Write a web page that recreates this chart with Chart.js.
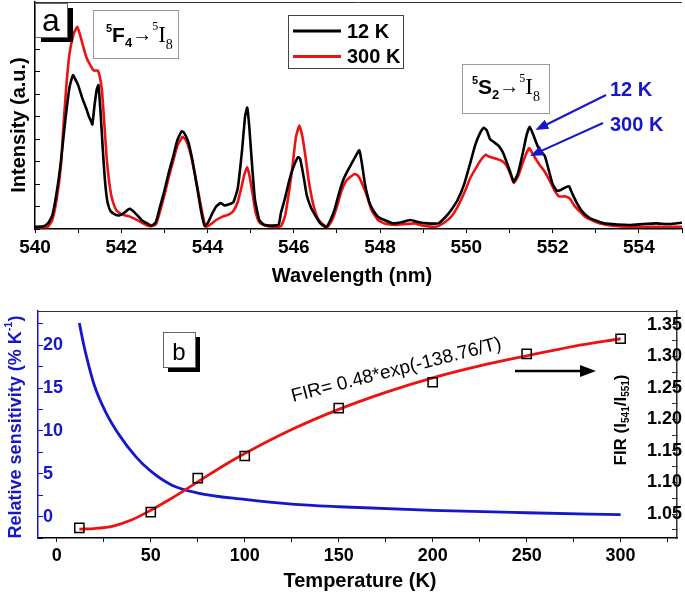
<!DOCTYPE html>
<html>
<head>
<meta charset="utf-8">
<script src="https://cdn.jsdelivr.net/npm/chart.js@4.4.0/dist/chart.umd.min.js"></script>
<style>
  body { margin: 0; background: #fff; }
  #wrap { position: relative; width: 685px; height: 594px; }
  canvas { position: absolute; left: 0; }
  #specChart { top: 0; }
  #tempChart { top: 290px; }
</style>
</head>
<body>
<div id="wrap">
  <canvas id="specChart" width="685" height="290"></canvas>
  <canvas id="tempChart" width="685" height="304"></canvas>
</div>
<script>
const FONT = "'Liberation Sans', Arial, sans-serif";
const SERIF = "'Liberation Serif', 'Times New Roman', serif";
const BLUE = '#1616cc';
const RED = '#ee1111';

// --- panel a: emission spectra ---
const wl12 = [540.0, 540.2, 540.3, 540.4, 540.5, 540.6, 540.7, 540.8, 540.88, 540.95, 541.0, 541.1, 541.2, 541.25, 541.3, 541.33,
  541.38, 541.43, 541.47, 541.52, 541.57, 541.62, 541.68, 541.75, 541.85, 541.95, 542.05, 542.15, 542.2, 542.3, 542.4, 542.5,
  542.6, 542.7, 542.8, 542.9, 543.0, 543.1, 543.2, 543.3, 543.4, 543.45, 543.55, 543.65, 543.75, 543.85, 543.93, 544.0,
  544.1, 544.2, 544.3, 544.4, 544.5, 544.6, 544.7, 544.8, 544.87, 544.92, 544.97, 545.03, 545.1, 545.2, 545.3, 545.5,
  545.65, 545.7, 545.8, 545.9, 546.0, 546.1, 546.15, 546.23, 546.3, 546.4, 546.5, 546.6, 546.75, 546.85, 546.95, 547.05,
  547.15, 547.25, 547.35, 547.45, 547.52, 547.58, 547.65, 547.75, 547.85, 547.95, 548.1, 548.3, 548.5, 548.7, 548.9, 549.1,
  549.35, 549.5, 549.65, 549.8, 549.95, 550.1, 550.2, 550.3, 550.4, 550.47, 550.55, 550.65, 550.75, 550.85, 550.95, 551.05,
  551.1, 551.2, 551.3, 551.4, 551.47, 551.55, 551.65, 551.75, 551.82, 551.9, 552.0, 552.1, 552.2, 552.3, 552.38, 552.45,
  552.55, 552.7, 552.85, 553.0, 553.2, 553.5, 553.8, 554.1, 554.4, 554.7, 555.0];
const int12 = [0.1, 0.12, 0.25, 0.6, 1.6, 3.0, 4.8, 6.3, 6.85, 6.6, 6.4, 5.8, 5.3, 5.0, 4.8, 4.65,
  5.5, 6.2, 6.4, 5.2, 3.6, 2.2, 1.2, 0.8, 0.65, 0.6, 0.7, 0.85, 0.9, 0.75, 0.55, 0.35,
  0.25, 0.15, 0.3, 1.0, 1.7, 2.5, 3.2, 3.95, 4.35, 4.3, 3.9, 3.05, 1.95, 0.8, 0.15, 0.25,
  0.65, 1.0, 1.15, 1.05, 1.1, 1.2, 1.8, 3.5, 5.0, 5.4, 4.5, 2.9, 1.3, 0.4, 0.2, 0.15,
  0.2, 0.7, 1.4, 2.2, 2.8, 3.2, 3.1, 2.3, 1.5, 0.95, 0.6, 0.28, 0.08, 0.4, 0.9, 1.6,
  2.2, 2.6, 2.95, 3.3, 3.5, 2.9, 2.0, 1.2, 0.8, 0.55, 0.4, 0.25, 0.3, 0.4, 0.3, 0.25,
  0.25, 0.5, 0.85, 1.3, 2.0, 3.0, 3.7, 4.2, 4.5, 4.4, 4.0, 3.85, 3.7, 3.4, 2.9, 2.35,
  2.1, 2.5, 3.3, 4.2, 4.55, 4.2, 3.7, 3.4, 3.25, 2.7, 2.0, 1.7, 1.75, 1.85, 1.9, 1.6,
  1.2, 0.75, 0.5, 0.38, 0.25, 0.2, 0.18, 0.22, 0.25, 0.22, 0.28];
const wl300 = [540.0, 540.3, 540.4, 540.5, 540.6, 540.65, 540.72, 540.8, 540.9, 540.98, 541.05, 541.12, 541.2, 541.28, 541.36, 541.45,
  541.5, 541.55, 541.6, 541.66, 541.72, 541.78, 541.88, 542.0, 542.2, 542.35, 542.5, 542.65, 542.8, 542.9, 543.0, 543.1,
  543.2, 543.3, 543.42, 543.5, 543.6, 543.7, 543.8, 543.88, 543.96, 544.1, 544.2, 544.35, 544.5, 544.6, 544.7, 544.78,
  544.85, 544.92, 544.98, 545.05, 545.12, 545.2, 545.3, 545.5, 545.7, 545.8, 545.9, 545.97, 546.05, 546.13, 546.2, 546.28,
  546.35, 546.45, 546.55, 546.65, 546.78, 546.9, 547.0, 547.1, 547.2, 547.3, 547.42, 547.5, 547.6, 547.7, 547.8, 547.95,
  548.1, 548.35, 548.6, 548.8, 549.0, 549.3, 549.5, 549.65, 549.8, 549.95, 550.1, 550.25, 550.35, 550.45, 550.55, 550.65,
  550.8, 550.9, 551.0, 551.1, 551.2, 551.3, 551.4, 551.46, 551.52, 551.6, 551.7, 551.8, 551.92, 552.05, 552.15, 552.3,
  552.4, 552.5, 552.62, 552.75, 552.9, 553.1, 553.4, 553.7, 554.2, 555.0];
const int300 = [0.08, 0.1, 0.4, 1.3, 2.8, 4.3, 6.2, 7.8, 8.7, 9.0, 8.6, 8.1, 7.6, 7.3, 7.05, 7.05,
  6.8, 6.2, 4.9, 3.2, 2.1, 1.4, 0.85, 0.65, 0.55, 0.42, 0.25, 0.12, 0.2, 0.8, 1.5, 2.3,
  3.0, 3.7, 4.1, 3.95, 3.4, 2.5, 1.5, 0.7, 0.08, 0.25, 0.4, 0.55, 0.65, 0.8, 1.2, 1.8,
  2.4, 2.75, 2.3, 1.5, 0.7, 0.3, 0.18, 0.1, 0.12, 0.6, 1.8, 2.8, 4.1, 4.6, 4.1, 3.1,
  2.1, 1.1, 0.5, 0.25, 0.08, 0.45, 1.0, 1.65, 2.1, 2.3, 2.45, 2.35, 1.95, 1.45, 0.85, 0.4,
  0.25, 0.18, 0.22, 0.25, 0.15, 0.1, 0.3, 0.55, 1.0, 1.6, 2.3, 2.8, 3.1, 3.3, 3.2, 3.15,
  3.05, 2.9, 2.55, 2.05, 2.35, 2.9, 3.4, 3.6, 3.4, 3.15, 2.85, 2.6, 2.2, 1.7, 1.45, 1.45,
  1.35, 1.05, 0.8, 0.55, 0.4, 0.25, 0.15, 0.1, 0.1, 0.1];
const waveTicks = [540, 541, 542, 543, 544, 545, 546, 547, 548, 549, 550, 551, 552, 553, 554, 555];
const intensityTicks = [0, 1, 2, 3, 4, 5, 6, 7, 8, 9, 10];

// --- panel b: FIR and relative sensitivity vs temperature ---
const tempPts = [12, 50, 75, 100, 150, 200, 250, 300];
const firPts = [1.028, 1.053, 1.107, 1.142, 1.218, 1.259, 1.304, 1.328];
const fitT = [12, 20, 30, 40, 50, 60, 75, 90, 100, 125, 150, 175, 200, 225, 250, 275, 300];
const fitFIR = [1.026, 1.027, 1.031, 1.041, 1.056, 1.073, 1.101, 1.129, 1.146, 1.184, 1.216, 1.243, 1.266, 1.285, 1.301, 1.316, 1.328];
const srT = [12, 14, 16, 20, 26, 33, 42, 50, 61, 75, 100, 125, 150, 200, 250, 300];
const srVal = [22.6, 20.4, 18.5, 15.3, 12.2, 9.6, 7.0, 5.3, 3.7, 2.75, 2.0, 1.45, 1.15, 0.73, 0.45, 0.22];
const tempTicks = [0, 25, 50, 75, 100, 125, 150, 175, 200, 225, 250, 275, 300, 325];
const srTicks = [-2.5, 0, 2.5, 5, 7.5, 10, 12.5, 15, 17.5, 20, 22.5];
const firTicks = [1.025, 1.05, 1.075, 1.1, 1.125, 1.15, 1.175, 1.2, 1.225, 1.25, 1.275, 1.3, 1.325, 1.35];

const toXY = (xs, ys) => xs.map((x, i) => ({ x: x, y: ys[i] }));
const setTicks = list => scale => { scale.ticks = list.map(v => ({ value: v })); };

function arrow(ctx, x1, y1, x2, y2, color, lw, len, half) {
    const a = Math.atan2(y2 - y1, x2 - x1);
    const c = Math.cos(a), s = Math.sin(a);
    ctx.save();
    ctx.strokeStyle = color; ctx.fillStyle = color; ctx.lineWidth = lw;
    ctx.beginPath(); ctx.moveTo(x1, y1); ctx.lineTo(x2 - len * 0.8 * c, y2 - len * 0.8 * s); ctx.stroke();
    ctx.beginPath();
    ctx.moveTo(x2, y2);
    ctx.lineTo(x2 - len * c + half * s, y2 - len * s - half * c);
    ctx.lineTo(x2 - len * c - half * s, y2 - len * s + half * c);
    ctx.closePath(); ctx.fill();
    ctx.restore();
}

// parts: [text, font, dy]
function richWidth(ctx, parts) {
    let w = 0;
    for (const p of parts) { ctx.font = p[1]; w += ctx.measureText(p[0]).width; }
    return w;
}
function richText(ctx, parts, x, y) {
    let cx = x;
    for (const p of parts) { ctx.font = p[1]; ctx.fillText(p[0], cx, y + p[2]); cx += ctx.measureText(p[0]).width; }
}

function plainBox(ctx, x, y, w, h, stroke) {
    ctx.fillStyle = '#fff'; ctx.fillRect(x, y, w, h);
    ctx.strokeStyle = stroke; ctx.lineWidth = 1; ctx.strokeRect(x + 0.5, y + 0.5, w, h);
}

function panelLabel(ctx, x, y, w, h, dx, dy, txt, font, cy) {
    ctx.fillStyle = '#000'; ctx.fillRect(x + dx, y + dy, w, h);
    plainBox(ctx, x, y, w, h, '#666');
    ctx.fillStyle = '#000'; ctx.font = font; ctx.textAlign = 'center'; ctx.textBaseline = 'alphabetic';
    ctx.fillText(txt, x + w / 2, cy);
}

function transition(ctx, upper, lowerSub, x, base) {
    const parts = [
        ['5', 'bold 11px ' + FONT, -10],
        [upper, 'bold 21px ' + FONT, 0],
        [lowerSub, 'bold 13px ' + FONT, 5],
        ['\u2192', '20px ' + SERIF, -1],
        ['5', '12px ' + SERIF, -12],
        ['I', '23px ' + SERIF, 0],
        ['8', '14px ' + SERIF, 7]
    ];
    ctx.fillStyle = '#000'; ctx.textAlign = 'left'; ctx.textBaseline = 'alphabetic';
    richText(ctx, parts, x, base);
}

const specDecor = {
    id: 'specDecor',
    afterDraw(chart) {
        const { ctx, chartArea: a } = chart;
        const xs = chart.scales.x, ys = chart.scales.y;
        ctx.save();
        ctx.strokeStyle = '#333'; ctx.lineWidth = 1;
        ctx.beginPath(); ctx.moveTo(a.left, a.top + 0.5); ctx.lineTo(a.right, a.top + 0.5); ctx.stroke();

        ctx.fillStyle = '#000'; ctx.font = 'bold 20px ' + FONT;
        ctx.textAlign = 'center'; ctx.textBaseline = 'middle';
        ctx.fillText('Wavelength (nm)', 352, 276);
        ctx.save(); ctx.translate(19, 125); ctx.rotate(-Math.PI / 2);
        ctx.fillText('Intensity (a.u.)', 0, 0); ctx.restore();

        panelLabel(ctx, a.left, 3, 32, 34, 6, 5, 'a', '32px ' + FONT, 31);

        plainBox(ctx, 93, 10, 85, 48, '#999');
        transition(ctx, 'F', '4', 106, 41.5);
        plainBox(ctx, 462, 64, 87, 49, '#999');
        transition(ctx, 'S', '2', 472, 94);

        // legend
        plainBox(ctx, 288, 15, 115, 53, '#444');
        const rows = [31, 56.5];
        chart.data.datasets.forEach((ds, i) => {
            ctx.strokeStyle = ds.borderColor; ctx.lineWidth = 3;
            ctx.beginPath(); ctx.moveTo(293, rows[i]); ctx.lineTo(341, rows[i]); ctx.stroke();
            ctx.fillStyle = '#000'; ctx.font = 'bold 20px ' + FONT;
            ctx.textAlign = 'left'; ctx.textBaseline = 'middle';
            ctx.fillText(ds.label, 347, rows[i] + 1);
        });

        // blue pointers to the 551 nm peaks
        ctx.fillStyle = BLUE; ctx.font = 'bold 20px ' + FONT;
        ctx.textAlign = 'left'; ctx.textBaseline = 'middle';
        ctx.fillText('12 K', 610, 90);
        ctx.fillText('300 K', 610, 125);
        arrow(ctx, 606, 95, xs.getPixelForValue(551.6), ys.getPixelForValue(4.4), BLUE, 2, 13, 5);
        arrow(ctx, 603, 123, xs.getPixelForValue(551.48), ys.getPixelForValue(3.25), BLUE, 2, 13, 5);
        ctx.restore();
    }
};

const tempDecor = {
    id: 'tempDecor',
    afterDraw(chart) {
        const { ctx, chartArea: a } = chart;
        ctx.save();
        ctx.strokeStyle = '#333'; ctx.lineWidth = 1.2;
        ctx.beginPath(); ctx.moveTo(a.left, a.top + 0.5); ctx.lineTo(a.right, a.top + 0.5); ctx.stroke();

        ctx.fillStyle = '#000'; ctx.font = 'bold 20px ' + FONT;
        ctx.textAlign = 'center'; ctx.textBaseline = 'middle';
        ctx.fillText('Temperature (K)', 360, 291);

        // left axis title (blue)
        const lt = [['Relative sensitivity (% K', 'bold 18px ' + FONT, 0], ['-1', 'bold 11px ' + FONT, -7], [')', 'bold 18px ' + FONT, 0]];
        ctx.save(); ctx.translate(16, 137); ctx.rotate(-Math.PI / 2);
        ctx.fillStyle = BLUE; ctx.textAlign = 'left'; ctx.textBaseline = 'middle';
        richText(ctx, lt, -richWidth(ctx, lt) / 2, 0);
        ctx.restore();

        // right axis title, drawn inside the frame as in the figure
        const rt = [['FIR (I', 'bold 17px ' + FONT, 0], ['541', 'bold 10px ' + FONT, 5], ['/I', 'bold 17px ' + FONT, 0],
                    ['551', 'bold 10px ' + FONT, 5], [')', 'bold 17px ' + FONT, 0]];
        ctx.save(); ctx.translate(621, 130); ctx.rotate(-Math.PI / 2);
        ctx.fillStyle = '#000'; ctx.textAlign = 'left'; ctx.textBaseline = 'middle';
        richText(ctx, rt, -richWidth(ctx, rt) / 2, 0);
        ctx.restore();

        panelLabel(ctx, 163, 42, 32, 35, 5, 5, 'b', '24px ' + FONT, 70);

        // fit formula along the curve
        ctx.save(); ctx.translate(293, 112); ctx.rotate(-14.3 * Math.PI / 180);
        ctx.fillStyle = '#000'; ctx.font = '19px ' + FONT; ctx.textAlign = 'left'; ctx.textBaseline = 'alphabetic';
        ctx.fillText('FIR= 0.48*exp(-138.76/T)', 0, 0);
        ctx.restore();

        arrow(ctx, 515, 81, 596, 81, '#000', 2.5, 16, 6);
        ctx.restore();
    }
};

new Chart(document.getElementById('specChart'), {
    type: 'line',
    data: {
        datasets: [
            { label: '12 K', data: toXY(wl12, int12), borderColor: '#000', borderWidth: 2.6, pointRadius: 0, tension: 0.15 },
            { label: '300 K', data: toXY(wl300, int300), borderColor: RED, borderWidth: 2.6, pointRadius: 0, tension: 0.15 }
        ]
    },
    options: {
        responsive: false,
        animation: false,
        devicePixelRatio: 1,
        layout: { padding: { top: 2, left: 0, right: 0, bottom: 0 } },
        plugins: { legend: { display: false }, tooltip: { enabled: false } },
        scales: {
            x: {
                type: 'linear', min: 540, max: 555,
                afterBuildTicks: setTicks(waveTicks),
                afterFit: s => { s.height = 61; },
                ticks: { autoSkip: false, maxRotation: 0, padding: 3, color: '#000',
                         font: { family: FONT, size: 19, weight: 'bold' },
                         callback: v => (v % 2 === 0 ? String(v) : '') },
                grid: { drawOnChartArea: false, tickLength: 4, color: '#000' },
                border: { color: '#000', width: 1.5 }
            },
            y: {
                min: 0, max: 10.1,
                afterBuildTicks: setTicks(intensityTicks),
                afterFit: s => { s.width = 35; },
                ticks: { display: false },
                grid: { drawOnChartArea: false, tickLength: -5, color: '#000' },
                border: { color: '#000', width: 1.5 }
            }
        }
    },
    plugins: [specDecor]
});

new Chart(document.getElementById('tempChart'), {
    type: 'line',
    data: {
        datasets: [
            { label: 'FIR data', data: toXY(tempPts, firPts), yAxisID: 'yR', showLine: false,
              pointStyle: 'rect', pointRadius: 6.5, pointBorderWidth: 1.5,
              pointBorderColor: '#000', pointBackgroundColor: 'rgba(0,0,0,0)' },
            { label: 'FIR fit', data: toXY(fitT, fitFIR), yAxisID: 'yR', borderColor: RED, borderWidth: 2.8,
              pointRadius: 0, cubicInterpolationMode: 'monotone' },
            { label: 'Sr', data: toXY(srT, srVal), yAxisID: 'yL', borderColor: BLUE, borderWidth: 2.8,
              pointRadius: 0, cubicInterpolationMode: 'monotone' }
        ]
    },
    options: {
        responsive: false,
        animation: false,
        devicePixelRatio: 1,
        layout: { padding: { top: 21, left: 0, right: 0, bottom: 0 } },
        plugins: { legend: { display: false }, tooltip: { enabled: false } },
        scales: {
            x: {
                type: 'linear', min: -10, max: 330,
                afterBuildTicks: setTicks(tempTicks),
                afterFit: s => { s.height = 56; },
                ticks: { autoSkip: false, maxRotation: 0, padding: 3, color: '#000',
                         font: { family: FONT, size: 18, weight: 'bold' },
                         callback: v => (v % 50 === 0 ? String(v) : '') },
                grid: { drawOnChartArea: false, tickLength: 4, color: '#000' },
                border: { color: '#000', width: 1.5 }
            },
            yL: {
                position: 'left', min: -2.5, max: 24,
                afterBuildTicks: setTicks(srTicks),
                afterFit: s => { s.width = 38; },
                ticks: { mirror: true, padding: 5, color: BLUE, autoSkip: false,
                         font: { family: FONT, size: 18, weight: 'bold' },
                         callback: v => (v >= 0 && v % 5 === 0 ? String(v) : '') },
                grid: { drawOnChartArea: false, tickLength: -5, color: BLUE },
                border: { color: BLUE, width: 1.5 }
            },
            yR: {
                position: 'right', min: 1.012, max: 1.372,
                afterBuildTicks: setTicks(firTicks),
                afterFit: s => { s.width = 3; },
                ticks: { mirror: true, padding: 5, color: '#000', autoSkip: false,
                         font: { family: FONT, size: 18, weight: 'bold' },
                         callback: v => (Math.round(v * 1000) % 50 === 0 ? v.toFixed(2) : '') },
                grid: { drawOnChartArea: false, tickLength: -5, color: '#333' },
                border: { color: '#333', width: 1.5 }
            }
        }
    },
    plugins: [tempDecor]
});
</script>
</body>
</html>
